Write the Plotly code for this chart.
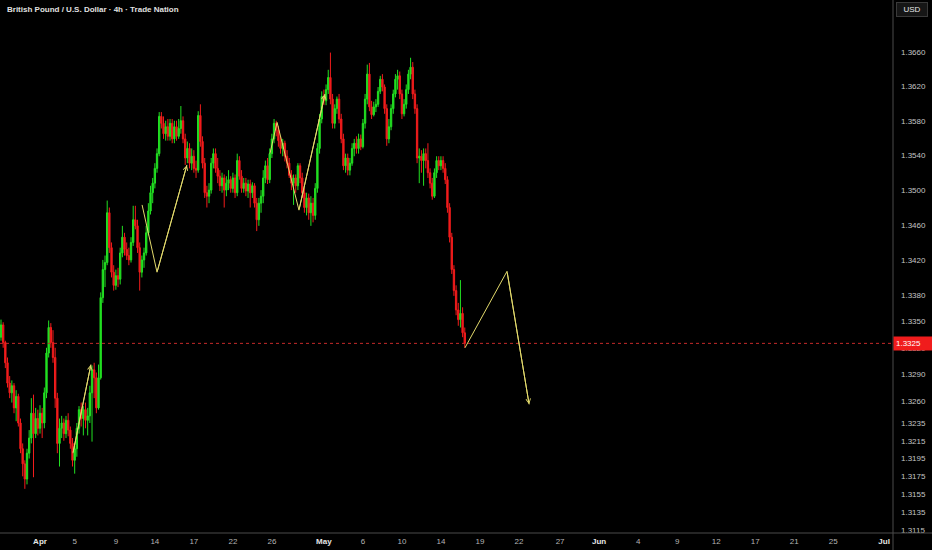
import math
import plotly.graph_objects as go

# ---------------- data (GBP/USD 4h candles) ----------------
opens = [
    1.3332, 1.3346, 1.3326, 1.3303, 1.3280, 1.3269, 1.3277, 1.3252, 1.3265, 1.3235,
    1.3206, 1.3189, 1.3172, 1.3201, 1.3218, 1.3246, 1.3223, 1.3240, 1.3229, 1.3246,
    1.3235, 1.3269, 1.3314, 1.3343, 1.3326, 1.3309, 1.3263, 1.3212, 1.3229, 1.3235,
    1.3223, 1.3238, 1.3227, 1.3212, 1.3193, 1.3206, 1.3229, 1.3250, 1.3240, 1.3250,
    1.3238, 1.3243, 1.3269, 1.3295, 1.3286, 1.3252, 1.3286, 1.3377, 1.3409, 1.3417,
    1.3474, 1.3434, 1.3406, 1.3391, 1.3402, 1.3398, 1.3428, 1.3446, 1.3432, 1.3425,
    1.3420, 1.3440, 1.3466, 1.3459, 1.3434, 1.3406, 1.3420, 1.3428, 1.3451, 1.3476,
    1.3497, 1.3508, 1.3525, 1.3542, 1.3585, 1.3577, 1.3565, 1.3573, 1.3562, 1.3577,
    1.3559, 1.3573, 1.3562, 1.3571, 1.3580, 1.3559, 1.3537, 1.3548, 1.3531, 1.3539,
    1.3525, 1.3523, 1.3586, 1.3556, 1.3531, 1.3497, 1.3493, 1.3500, 1.3531, 1.3542,
    1.3525, 1.3516, 1.3505, 1.3514, 1.3500, 1.3508, 1.3512, 1.3502, 1.3514, 1.3497,
    1.3534, 1.3516, 1.3502, 1.3508, 1.3499, 1.3507, 1.3497, 1.3505, 1.3485, 1.3466,
    1.3485, 1.3493, 1.3514, 1.3528, 1.3512, 1.3542, 1.3559, 1.3577, 1.3569, 1.3557,
    1.3548, 1.3554, 1.3539, 1.3531, 1.3517, 1.3508, 1.3514, 1.3505, 1.3528, 1.3514,
    1.3497, 1.3480, 1.3491, 1.3474, 1.3485, 1.3471, 1.3502, 1.3548, 1.3582, 1.3608,
    1.3603, 1.3616, 1.3630, 1.3605, 1.3577, 1.3594, 1.3605, 1.3582, 1.3559, 1.3528,
    1.3537, 1.3523, 1.3531, 1.3548, 1.3554, 1.3548, 1.3559, 1.3550, 1.3577, 1.3605,
    1.3634, 1.3596, 1.3587, 1.3596, 1.3599, 1.3614, 1.3628, 1.3619, 1.3594, 1.3559,
    1.3573, 1.3594, 1.3611, 1.3628, 1.3632, 1.3611, 1.3588, 1.3599, 1.3616, 1.3634,
    1.3642, 1.3611, 1.3594, 1.3537, 1.3539, 1.3534, 1.3542, 1.3534, 1.3520, 1.3508,
    1.3493, 1.3520, 1.3534, 1.3528, 1.3534, 1.3525, 1.3512, 1.3480, 1.3446, 1.3409,
    1.3385, 1.3363, 1.3352, 1.3359, 1.3337,
]
highs = [
    1.3352, 1.3349, 1.3328, 1.3309, 1.3288, 1.3283, 1.3280, 1.3272, 1.3268, 1.3240,
    1.3212, 1.3193, 1.3206, 1.3227, 1.3263, 1.3267, 1.3252, 1.3250, 1.3255, 1.3252,
    1.3275, 1.3320, 1.3351, 1.3348, 1.3340, 1.3320, 1.3269, 1.3240, 1.3243, 1.3240,
    1.3243, 1.3246, 1.3231, 1.3218, 1.3212, 1.3235, 1.3254, 1.3258, 1.3254, 1.3258,
    1.3252, 1.3277, 1.3300, 1.3303, 1.3292, 1.3301, 1.3383, 1.3420, 1.3425, 1.3488,
    1.3480, 1.3440, 1.3414, 1.3409, 1.3411, 1.3434, 1.3459, 1.3451, 1.3440, 1.3434,
    1.3446, 1.3482, 1.3482, 1.3466, 1.3440, 1.3425, 1.3434, 1.3459, 1.3485, 1.3505,
    1.3514, 1.3531, 1.3548, 1.3590, 1.3590, 1.3585, 1.3580, 1.3582, 1.3582, 1.3582,
    1.3580, 1.3580, 1.3582, 1.3597, 1.3585, 1.3565, 1.3556, 1.3554, 1.3548, 1.3546,
    1.3534, 1.3591, 1.3599, 1.3562, 1.3537, 1.3505, 1.3508, 1.3537, 1.3548, 1.3548,
    1.3537, 1.3523, 1.3520, 1.3518, 1.3516, 1.3523, 1.3516, 1.3520, 1.3518, 1.3542,
    1.3539, 1.3523, 1.3514, 1.3514, 1.3512, 1.3512, 1.3509, 1.3508, 1.3491, 1.3491,
    1.3500, 1.3523, 1.3534, 1.3537, 1.3548, 1.3565, 1.3582, 1.3580, 1.3574, 1.3562,
    1.3559, 1.3557, 1.3546, 1.3537, 1.3523, 1.3518, 1.3518, 1.3531, 1.3531, 1.3520,
    1.3502, 1.3497, 1.3496, 1.3493, 1.3491, 1.3508, 1.3554, 1.3588, 1.3614, 1.3616,
    1.3622, 1.3639, 1.3659, 1.3611, 1.3599, 1.3608, 1.3611, 1.3588, 1.3565, 1.3542,
    1.3542, 1.3537, 1.3554, 1.3559, 1.3562, 1.3565, 1.3564, 1.3582, 1.3611, 1.3645,
    1.3647, 1.3603, 1.3602, 1.3605, 1.3619, 1.3632, 1.3634, 1.3622, 1.3599, 1.3582,
    1.3599, 1.3616, 1.3634, 1.3639, 1.3637, 1.3616, 1.3605, 1.3622, 1.3639, 1.3653,
    1.3648, 1.3616, 1.3599, 1.3548, 1.3546, 1.3548, 1.3548, 1.3554, 1.3525, 1.3514,
    1.3525, 1.3539, 1.3539, 1.3539, 1.3539, 1.3531, 1.3516, 1.3485, 1.3451, 1.3414,
    1.3391, 1.3371, 1.3397, 1.3366, 1.3343,
]
lows = [
    1.3328, 1.3320, 1.3297, 1.3275, 1.3263, 1.3258, 1.3246, 1.3237, 1.3231, 1.3201,
    1.3175, 1.3161, 1.3166, 1.3195, 1.3212, 1.3174, 1.3218, 1.3221, 1.3223, 1.3218,
    1.3229, 1.3263, 1.3309, 1.3320, 1.3303, 1.3252, 1.3201, 1.3186, 1.3218, 1.3215,
    1.3218, 1.3220, 1.3206, 1.3186, 1.3178, 1.3197, 1.3223, 1.3231, 1.3221, 1.3229,
    1.3221, 1.3235, 1.3214, 1.3263, 1.3246, 1.3250, 1.3284, 1.3371, 1.3389, 1.3414,
    1.3428, 1.3400, 1.3385, 1.3386, 1.3389, 1.3392, 1.3423, 1.3425, 1.3420, 1.3414,
    1.3417, 1.3436, 1.3455, 1.3428, 1.3385, 1.3400, 1.3411, 1.3425, 1.3448, 1.3472,
    1.3485, 1.3502, 1.3520, 1.3539, 1.3571, 1.3559, 1.3557, 1.3557, 1.3557, 1.3554,
    1.3554, 1.3557, 1.3559, 1.3565, 1.3554, 1.3529, 1.3531, 1.3525, 1.3523, 1.3520,
    1.3514, 1.3520, 1.3550, 1.3525, 1.3491, 1.3480, 1.3485, 1.3496, 1.3525, 1.3520,
    1.3508, 1.3499, 1.3497, 1.3480, 1.3493, 1.3500, 1.3497, 1.3497, 1.3491, 1.3493,
    1.3512, 1.3497, 1.3497, 1.3493, 1.3491, 1.3480, 1.3491, 1.3480, 1.3453, 1.3459,
    1.3474, 1.3485, 1.3508, 1.3507, 1.3508, 1.3537, 1.3554, 1.3562, 1.3550, 1.3542,
    1.3539, 1.3533, 1.3525, 1.3514, 1.3500, 1.3483, 1.3497, 1.3500, 1.3508, 1.3491,
    1.3474, 1.3471, 1.3466, 1.3459, 1.3463, 1.3466, 1.3497, 1.3542, 1.3577, 1.3598,
    1.3598, 1.3611, 1.3599, 1.3571, 1.3571, 1.3588, 1.3577, 1.3554, 1.3523, 1.3520,
    1.3517, 1.3517, 1.3528, 1.3539, 1.3542, 1.3542, 1.3546, 1.3548, 1.3571, 1.3599,
    1.3591, 1.3582, 1.3585, 1.3590, 1.3596, 1.3611, 1.3614, 1.3588, 1.3551, 1.3554,
    1.3569, 1.3588, 1.3607, 1.3616, 1.3605, 1.3582, 1.3585, 1.3594, 1.3611, 1.3628,
    1.3605, 1.3588, 1.3531, 1.3508, 1.3520, 1.3505, 1.3525, 1.3514, 1.3502, 1.3489,
    1.3491, 1.3514, 1.3523, 1.3523, 1.3520, 1.3507, 1.3474, 1.3440, 1.3404, 1.3379,
    1.3357, 1.3345, 1.3343, 1.3332, 1.3320,
]
closes = [
    1.3346, 1.3326, 1.3303, 1.3280, 1.3269, 1.3277, 1.3252, 1.3265, 1.3235, 1.3206,
    1.3189, 1.3172, 1.3201, 1.3218, 1.3246, 1.3223, 1.3240, 1.3229, 1.3246, 1.3235,
    1.3269, 1.3314, 1.3343, 1.3326, 1.3309, 1.3263, 1.3212, 1.3229, 1.3235, 1.3223,
    1.3238, 1.3227, 1.3212, 1.3193, 1.3206, 1.3229, 1.3250, 1.3240, 1.3250, 1.3238,
    1.3243, 1.3269, 1.3295, 1.3286, 1.3252, 1.3286, 1.3377, 1.3409, 1.3417, 1.3474,
    1.3434, 1.3406, 1.3391, 1.3402, 1.3398, 1.3428, 1.3446, 1.3432, 1.3425, 1.3420,
    1.3440, 1.3466, 1.3459, 1.3434, 1.3406, 1.3420, 1.3428, 1.3451, 1.3476, 1.3497,
    1.3508, 1.3525, 1.3542, 1.3585, 1.3577, 1.3565, 1.3573, 1.3562, 1.3577, 1.3559,
    1.3573, 1.3562, 1.3571, 1.3580, 1.3559, 1.3537, 1.3548, 1.3531, 1.3539, 1.3525,
    1.3523, 1.3586, 1.3556, 1.3531, 1.3497, 1.3493, 1.3500, 1.3531, 1.3542, 1.3525,
    1.3516, 1.3505, 1.3514, 1.3500, 1.3508, 1.3512, 1.3502, 1.3514, 1.3497, 1.3534,
    1.3516, 1.3502, 1.3508, 1.3499, 1.3507, 1.3497, 1.3505, 1.3485, 1.3466, 1.3485,
    1.3493, 1.3514, 1.3528, 1.3512, 1.3542, 1.3559, 1.3577, 1.3569, 1.3557, 1.3548,
    1.3554, 1.3539, 1.3531, 1.3517, 1.3508, 1.3514, 1.3505, 1.3528, 1.3514, 1.3497,
    1.3480, 1.3491, 1.3474, 1.3485, 1.3471, 1.3502, 1.3548, 1.3582, 1.3608, 1.3603,
    1.3616, 1.3630, 1.3605, 1.3577, 1.3594, 1.3605, 1.3582, 1.3559, 1.3528, 1.3537,
    1.3523, 1.3531, 1.3548, 1.3554, 1.3548, 1.3559, 1.3550, 1.3577, 1.3605, 1.3634,
    1.3596, 1.3587, 1.3596, 1.3599, 1.3614, 1.3628, 1.3619, 1.3594, 1.3559, 1.3573,
    1.3594, 1.3611, 1.3628, 1.3632, 1.3611, 1.3588, 1.3599, 1.3616, 1.3634, 1.3642,
    1.3611, 1.3594, 1.3537, 1.3539, 1.3534, 1.3542, 1.3534, 1.3520, 1.3508, 1.3493,
    1.3520, 1.3534, 1.3528, 1.3534, 1.3525, 1.3512, 1.3480, 1.3446, 1.3409, 1.3385,
    1.3363, 1.3352, 1.3359, 1.3337, 1.3325,
]
bar_index = list(range(len(closes)))

# date labels on the bar-index axis
date_labels = ["Apr", "5", "9", "14", "17", "22", "26", "May", "6", "10", "14",
               "19", "22", "27", "Jun", "4", "9", "12", "17", "21", "25", "Jul"]
date_bar_index = [18, 34, 53, 71, 89, 107, 125, 149, 167, 185, 203,
                  221, 239, 258, 276, 294, 312, 330, 348, 366, 384, 407.5]
month_names = ["Apr", "May", "Jun", "Jul"]

price_ticks = [1.3660, 1.3620, 1.3580, 1.3540, 1.3500, 1.3460, 1.3420, 1.3380,
               1.3350, 1.3320, 1.3290, 1.3260, 1.3235, 1.3215, 1.3195, 1.3175,
               1.3155, 1.3135, 1.3115]

# hand-drawn projection paths (bar index, price)
path_a_x = [33.2, 41.5]
path_a_y = [1.3201, 1.3301]
path_b_x = [65.1, 72.0, 85.8]
path_b_y = [1.3483, 1.3406, 1.3529]
path_c_x = [124.1, 127.4, 137.5, 149.5]
path_c_y = [1.3542, 1.3578, 1.3477, 1.3611]
path_d_x = [214.1, 233.5, 243.7]
path_d_y = [1.3320, 1.3407, 1.3256]

# ---------------- styling ----------------
GREEN = "#22e022"
RED = "#f21c1c"
YELLOW = "#e3da6c"
AXIS_LINE = "#4a4a4a"
FONT = "Liberation Sans, Arial, sans-serif"

x_range = [-0.46, 411.6]
y_range = [math.log10(1.31116), math.log10(1.37203)]

fig = go.Figure()

fig.add_trace(go.Candlestick(
    x=bar_index, open=opens, high=highs, low=lows, close=closes,
    increasing=dict(line=dict(color=GREEN, width=1), fillcolor=GREEN),
    decreasing=dict(line=dict(color=RED, width=1), fillcolor=RED),
    whiskerwidth=0, showlegend=False, hoverinfo="skip",
))

# last price dotted line
last_price = closes[-1]
fig.add_trace(go.Scatter(
    x=x_range, y=[last_price, last_price], mode="lines",
    line=dict(color="#c62a2a", width=1, dash="dot"),
    showlegend=False, hoverinfo="skip",
))

# projection paths
for px_, py_ in [(path_a_x, path_a_y), (path_b_x, path_b_y),
                 (path_c_x, path_c_y), (path_d_x, path_d_y)]:
    fig.add_trace(go.Scatter(
        x=px_, y=py_, mode="lines", line=dict(color=YELLOW, width=1),
        showlegend=False, hoverinfo="skip",
    ))
    fig.add_annotation(
        x=px_[-1], y=math.log10(py_[-1]), ax=px_[-2], ay=math.log10(py_[-2]),
        xref="x", yref="y", axref="x", ayref="y", text="",
        showarrow=True, arrowhead=5, arrowsize=0.9, arrowwidth=1,
        arrowcolor=YELLOW, standoff=0, startstandoff=0,
    )

tick_text = []
for lab in date_labels:
    if lab in month_names:
        tick_text.append("<span style='color:#e6e6e6'><b>%s</b></span>" % lab)
    else:
        tick_text.append(lab)

fig.update_layout(
    width=932, height=550,
    margin=dict(l=0, r=39, t=0, b=17, pad=0),
    paper_bgcolor="#000000", plot_bgcolor="#000000",
    font=dict(family=FONT, color="#b8b8b8", size=8),
    boxgap=0.12,
    xaxis=dict(
        range=x_range, rangeslider=dict(visible=False),
        showgrid=False, zeroline=False, showline=False,
        tickmode="array", tickvals=date_bar_index, ticktext=tick_text,
        ticks="", tickfont=dict(size=8, color="#b4b4b4", family=FONT),
        ticklabelstandoff=2, fixedrange=True,
    ),
    yaxis=dict(
        type="log", range=y_range, side="right",
        showgrid=False, zeroline=False, showline=False,
        tickmode="array", tickvals=price_ticks,
        ticktext=["%.4f" % v for v in price_ticks],
        ticks="", tickfont=dict(size=8, color="#c4c4c4", family=FONT),
        ticklabelstandoff=7, fixedrange=True,
    ),
    showlegend=False,
)

# axis border lines
fig.add_shape(type="line", xref="paper", yref="paper", x0=1, x1=1,
              y0=-17 / 533, y1=1, line=dict(color=AXIS_LINE, width=1))
fig.add_shape(type="line", xref="paper", yref="paper", x0=0, x1=932 / 893,
              y0=0, y1=0, line=dict(color=AXIS_LINE, width=1))

# last price label
fig.add_annotation(
    x=1, xref="paper", xanchor="left", y=math.log10(last_price), yref="y",
    yanchor="middle", text="%.4f" % last_price, showarrow=False,
    bgcolor="#f01c1c", font=dict(color="#ffffff", size=8, family=FONT),
    borderpad=2, width=34, align="left",
)

# currency box
fig.add_annotation(
    x=912 / 893, xref="paper", y=1 - 9.5 / 533, yref="paper",
    xanchor="center", yanchor="middle", text="USD", showarrow=False,
    bgcolor="#161616", bordercolor="#3a3a3a", borderwidth=1, borderpad=2,
    font=dict(color="#e8e8e8", size=8, family=FONT), width=26,
)

# title
fig.add_annotation(
    x=5 / 893, xref="paper", y=1 - 9 / 533, yref="paper",
    xanchor="left", yanchor="middle", showarrow=False,
    text="British Pound / U.S. Dollar · 4h · Trade Nation",
    font=dict(color="#e0e0e0", size=8, family=FONT, weight=600),
)

fig.write_html(
    "out.html",
    config={"displayModeBar": False},
    post_script="document.body.style.margin='0';document.body.style.background='#000';"
                "document.body.style.overflow='hidden';",
)
